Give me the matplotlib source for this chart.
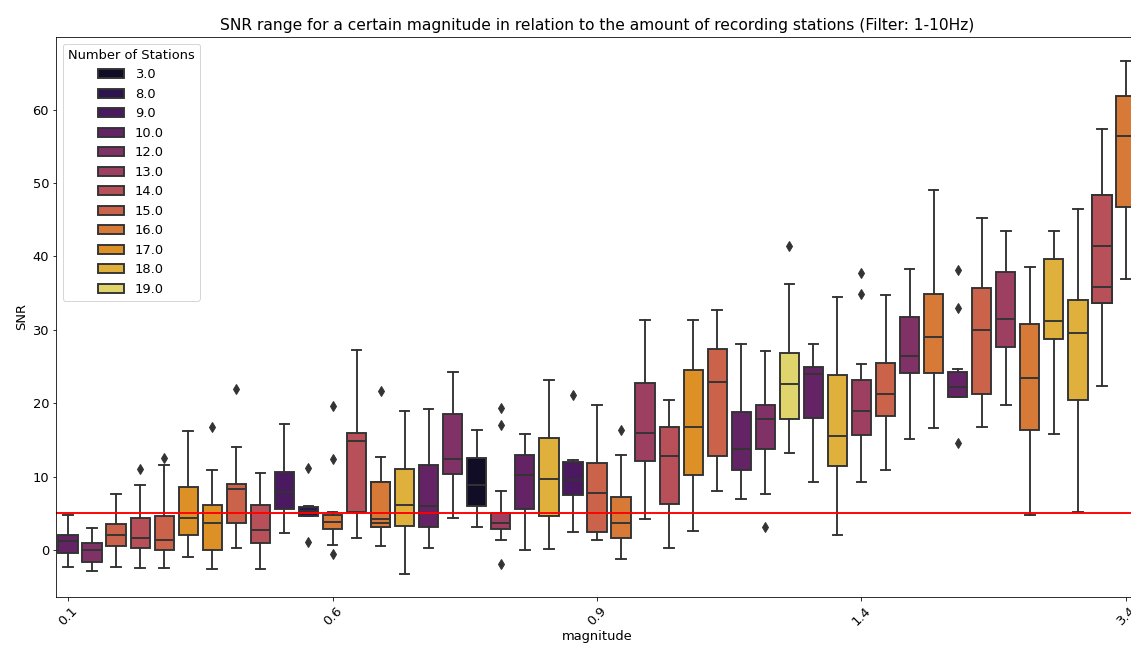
import colorsys
import numpy as np
import matplotlib
matplotlib.use("Agg")
import matplotlib.pyplot as plt

# number of recording stations (hue) for each magnitude box, left to right
stations = [10, 12, 15, 14, 15, 17, 17, 15, 14, 9, 8,
            16, 14, 16, 18, 10, 12, 3, 13, 10, 18, 9,
            15, 16, 13, 14, 17, 15, 10, 12, 19, 10, 18,
            13, 15, 12, 16, 10, 15, 13, 16, 18, 18, 14, 16]

# box statistics
whislo = [-2.3, -2.8, -2.3, -2.5, -2.5, -1.0, -2.6, 0.3, -2.6, 2.3, 4.6,
          0.7, 1.6, 0.5, -3.2, 0.3, 4.4, 3.1, 1.4, 0.0, 0.2, 2.4,
          1.4, -1.2, 4.2, 0.3, 2.6, 8.1, 6.9, 7.6, 13.2, 9.3, 2.1,
          9.3, 10.9, 15.1, 16.6, 20.8, 16.7, 19.7, 4.8, 15.8, 5.2, 22.4, 36.9]
q1 = [-0.4, -1.6, 0.5, 0.3, 0.0, 2.0, 0.0, 3.7, 0.9, 5.6, 4.7,
      2.8, 5.2, 3.1, 3.3, 3.1, 10.4, 6.0, 2.8, 5.6, 4.7, 7.5,
      2.4, 1.6, 12.1, 6.3, 10.2, 12.8, 10.9, 13.8, 17.9, 18.0, 11.5,
      15.7, 18.3, 24.1, 24.1, 20.9, 21.3, 27.7, 16.3, 28.7, 20.4, 33.6, 46.7]
med = [1.2, 0.0, 2.0, 1.6, 1.4, 4.3, 3.7, 8.3, 2.7, 7.9, 5.3,
       3.8, 14.8, 3.7, 6.2, 6.0, 12.4, 8.8, 3.7, 10.2, 9.7, 9.5,
       7.8, 3.7, 16.0, 12.8, 16.7, 22.9, 13.7, 17.9, 22.6, 24.0, 15.5,
       19.0, 21.3, 26.4, 29.0, 22.2, 30.0, 31.5, 23.4, 31.2, 29.6, 35.9, 56.4]
q3 = [2.1, 1.0, 3.5, 4.4, 4.7, 8.6, 6.2, 9.0, 6.2, 10.6, 5.8,
      4.8, 16.0, 9.3, 11.1, 11.6, 18.5, 12.5, 5.0, 13.0, 15.3, 12.0,
      11.8, 7.2, 22.7, 16.7, 24.5, 27.4, 18.8, 19.7, 26.9, 25.0, 23.9,
      23.2, 25.5, 31.7, 34.9, 24.3, 35.7, 37.9, 30.8, 39.6, 34.0, 48.4, 61.8]
whishi = [4.8, 3.0, 7.6, 8.8, 11.6, 16.2, 10.9, 14.1, 10.5, 17.2, 6.0,
          5.2, 27.3, 12.7, 18.9, 19.2, 24.3, 16.4, 8.1, 15.8, 23.2, 12.2,
          19.7, 13.0, 31.4, 20.4, 31.4, 32.7, 28.1, 27.1, 36.3, 28.1, 34.5,
          25.4, 34.7, 38.3, 49.0, 24.6, 45.2, 43.5, 38.5, 43.5, 46.4, 57.4, 66.6]
fliers = [[], [], [], [11.0], [12.6], [], [16.8], [21.9], [], [], [11.2, 1.1],
          [19.6, 12.4, -0.5], [], [21.6], [], [], [], [], [19.3, 17.1, -1.9], [], [], [21.1],
          [], [16.4], [], [], [], [], [], [3.2], [41.4], [], [],
          [37.8, 34.9], [], [], [], [38.2, 33.0, 14.6], [], [], [], [], [], [], []]
# a second box hidden underneath shows its median line too
second_med = {13: 4.2, 43: 41.4}

tick_every = 11
tick_labels = ["0.1", "0.6", "0.9", "1.4", "3.4"]
snr_threshold = 5

levels = sorted(set(stations))
cmap = plt.get_cmap("inferno")
pal = {}
for lv, p in zip(levels, np.linspace(0, 1, len(levels) + 2)[1:-1]):
    h, l, s = colorsys.rgb_to_hls(*cmap(p)[:3])
    pal[lv] = colorsys.hls_to_rgb(h, l, s * 0.75)

plt.rcParams["font.size"] = 13

fig = plt.figure(figsize=(1131 / 72, 648 / 72), dpi=72)
ax = fig.add_axes([56 / 1131, 51 / 648, 1082 / 1131, 560 / 648])

line_c = "#333333"
lw = 1.9
lp = dict(color=line_c, linewidth=lw)
common = dict(widths=0.8, patch_artist=True, boxprops=dict(edgecolor=line_c, linewidth=lw),
              whiskerprops=lp, capprops=lp, medianprops=lp,
              flierprops=dict(marker="d", markerfacecolor=line_c, markeredgecolor=line_c,
                              markersize=7, linestyle="none"))

n = len(stations)
extra = [dict(med=m, q1=q1[i], q3=q3[i], whislo=q1[i], whishi=q3[i], fliers=[])
         for i, m in second_med.items()]
ax.bxp(extra, positions=list(second_med.keys()), showcaps=False, **common)

stats = [dict(med=med[i], q1=q1[i], q3=q3[i], whislo=whislo[i], whishi=whishi[i],
              fliers=fliers[i]) for i in range(n)]
res = ax.bxp(stats, positions=range(n), **common)
for b, s in zip(res["boxes"], stations):
    b.set_facecolor(pal[s])

ax.axhline(snr_threshold, color="red", linewidth=1.9)

ax.set_xlim(-0.5, n - 0.5)
ax.set_ylim(-6.4, 69.9)
ax.set_xticks(range(0, n, tick_every))
ax.set_xticklabels(tick_labels, rotation=45)
ax.set_xlabel("magnitude", labelpad=2)
ax.set_ylabel("SNR")
ax.set_title("SNR range for a certain magnitude in relation to the amount of recording stations (Filter: 1-10Hz)",
             fontsize=15.5, pad=7)

handles = [plt.Rectangle((0, 0), 1, 1, facecolor=pal[lv], edgecolor=line_c, linewidth=lw) for lv in levels]
ax.legend(handles, [f"{lv:.1f}" for lv in levels], title="Number of Stations", loc="upper left",
          labelspacing=0.5)

fig.savefig("out.png", dpi=72)
